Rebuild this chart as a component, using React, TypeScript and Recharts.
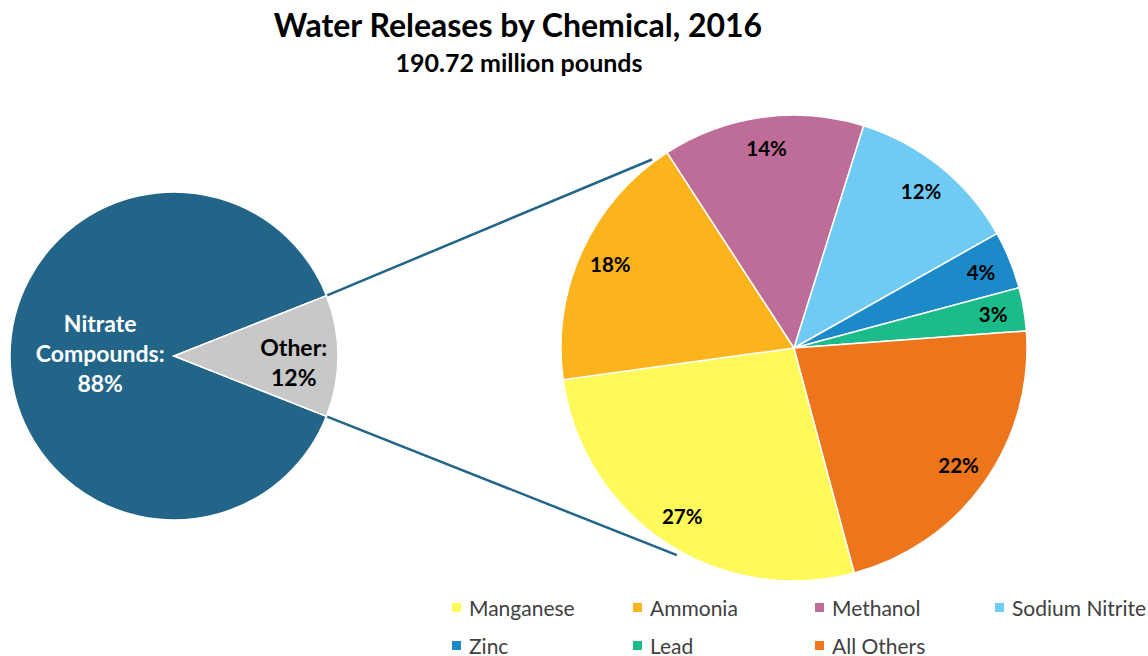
import React from 'react';
import { PieChart, Pie, Cell, Legend, Customized } from 'recharts';

// ---- Data ----
const mainCategories = ['Nitrate Compounds', 'Other'];
const mainValues = [88, 12];
const mainColors = ['#236589', '#C8C8C8'];
const mainLabelColors = ['#FFFFFF', '#000000'];

const detailCategories = ['Manganese', 'Ammonia', 'Methanol', 'Sodium Nitrite', 'Zinc', 'Lead', 'All Others'];
const detailValues = [27, 18, 14, 12, 4, 3, 22];
const detailColors = ['#FFF959', '#FBB41C', '#BE6C98', '#70CBF4', '#1C8AC9', '#1CBB8A', '#ED751C'];

const titleText = 'Water Releases by Chemical, 2016';
const subtitleText = '190.72 million pounds';

const mainData = mainCategories.map((name, i) => ({ name, value: mainValues[i] }));
const detailData = detailCategories.map((name, i) => ({ name, value: detailValues[i] }));

// ---- Layout ----
const W = 1148;
const H = 656;
const FONT = 'Lato, "Open Sans", sans-serif';
const RAD = Math.PI / 180;

const L = { cx: 174, cy: 356, r: 164 };
const R = { cx: 794, cy: 348, r: 233 };
const otherPct = mainValues[1] / mainValues.reduce((a, b) => a + b, 0);
const mainStart = -otherPct * 180; // Other slice centred on 3 o'clock
const detailStart = -75;
const mainLabelRadius = [0.45, 0.73];
const mainLabelDy = [-3, 6];

const mainLabel = (props: any) => {
  const { cx, cy, midAngle, outerRadius, percent, index, name } = props;
  const rr = outerRadius * mainLabelRadius[index];
  const x = cx + rr * Math.cos(-midAngle * RAD);
  const y = cy + rr * Math.sin(-midAngle * RAD) + mainLabelDy[index];
  const words = String(name).split(' ');
  const lines = [...words.slice(0, -1), words[words.length - 1] + ':', `${Math.round(percent * 100)}%`];
  const lh = 30;
  const y0 = y - ((lines.length - 1) * lh) / 2;
  return (
    <text
      x={x}
      y={y0}
      textAnchor="middle"
      dominantBaseline="central"
      fill={mainLabelColors[index]}
      style={{ fontFamily: FONT, fontSize: 23, fontWeight: 700 }}
    >
      {lines.map((t, i) => (
        <tspan key={i} x={x} y={y0 + i * lh}>
          {t}
        </tspan>
      ))}
    </text>
  );
};

const detailLabel = (props: any) => {
  const { cx, cy, midAngle, outerRadius, percent } = props;
  const rr = outerRadius - 31;
  const x = cx + rr * Math.cos(-midAngle * RAD);
  const y = cy + rr * Math.sin(-midAngle * RAD);
  return (
    <text
      x={x}
      y={y}
      textAnchor="middle"
      dominantBaseline="central"
      fill="#000"
      style={{ fontFamily: FONT, fontSize: 20.5, fontWeight: 700 }}
    >
      {`${Math.round(percent * 100)}%`}
    </text>
  );
};

const Decorations = () => {
  const a1 = mainStart * -1;
  const p1 = { x: L.cx + L.r * Math.cos(a1 * RAD), y: L.cy - L.r * Math.sin(a1 * RAD) };
  const p2 = { x: L.cx + L.r * Math.cos(-a1 * RAD), y: L.cy - L.r * Math.sin(-a1 * RAD) };
  const q1 = { x: R.cx + (R.r + 3) * Math.cos(127 * RAD), y: R.cy - (R.r + 3) * Math.sin(127 * RAD) };
  const q2 = { x: R.cx + (R.r + 5) * Math.cos(-119.5 * RAD), y: R.cy - (R.r + 5) * Math.sin(-119.5 * RAD) };
  return (
    <g>
      <text x={518} y={36.5} textAnchor="middle" fill="#000" style={{ fontFamily: FONT, fontSize: 32, fontWeight: 700 }}>
        {titleText}
      </text>
      <text x={519} y={72} textAnchor="middle" fill="#000" style={{ fontFamily: FONT, fontSize: 25, fontWeight: 700 }}>
        {subtitleText}
      </text>
      <line x1={p1.x} y1={p1.y} x2={q1.x} y2={q1.y} stroke="#236589" strokeWidth={2.5} />
      <line x1={p2.x} y1={p2.y} x2={q2.x} y2={q2.y} stroke="#236589" strokeWidth={2.5} />
    </g>
  );
};

const renderLegend = (props: any) => {
  const payload = (props.payload || [])
    .filter((p: any) => detailCategories.includes(p.value))
    .sort((a: any, b: any) => detailCategories.indexOf(a.value) - detailCategories.indexOf(b.value));
  return (
    <div
      style={{
        display: 'grid',
        gridTemplateColumns: '181px 182px 180px 160px',
        rowGap: 16,
        fontFamily: FONT,
        fontSize: 21,
        color: '#404040',
      }}
    >
      {payload.map((p: any) => (
        <div key={p.value} style={{ display: 'flex', alignItems: 'center', height: 22, whiteSpace: 'nowrap' }}>
          <span style={{ display: 'inline-block', width: 9, height: 9, background: p.color, marginRight: 8 }} />
          <span>{p.value}</span>
        </div>
      ))}
    </div>
  );
};

export default function App() {
  return (
    <div style={{ position: 'absolute', left: 0, top: 0, width: W, height: H, background: '#fff' }}>
      <PieChart width={W} height={H} margin={{ top: 0, right: 0, bottom: 0, left: 0 }}>
        <Pie
          data={mainData}
          dataKey="value"
          nameKey="name"
          cx={L.cx}
          cy={L.cy}
          outerRadius={L.r}
          startAngle={mainStart}
          endAngle={mainStart - 360}
          stroke="#FFFFFF"
          strokeWidth={1.5}
          label={mainLabel}
          labelLine={false}
          legendType="none"
          isAnimationActive={false}
        >
          {mainData.map((d, i) => (
            <Cell key={d.name} fill={mainColors[i]} />
          ))}
        </Pie>
        <Pie
          data={detailData}
          dataKey="value"
          nameKey="name"
          cx={R.cx}
          cy={R.cy}
          outerRadius={R.r}
          startAngle={detailStart}
          endAngle={detailStart - 360}
          stroke="#FFFFFF"
          strokeWidth={1.5}
          label={detailLabel}
          labelLine={false}
          legendType="square"
          isAnimationActive={false}
        >
          {detailData.map((d, i) => (
            <Cell key={d.name} fill={detailColors[i]} />
          ))}
        </Pie>
        <Customized component={Decorations} />
        <Legend
          content={renderLegend}
          layout="horizontal"
          verticalAlign="bottom"
          align="left"
          wrapperStyle={{ position: 'absolute', left: 452, top: 596, bottom: 'auto', width: 700 }}
        />
      </PieChart>
    </div>
  );
}
